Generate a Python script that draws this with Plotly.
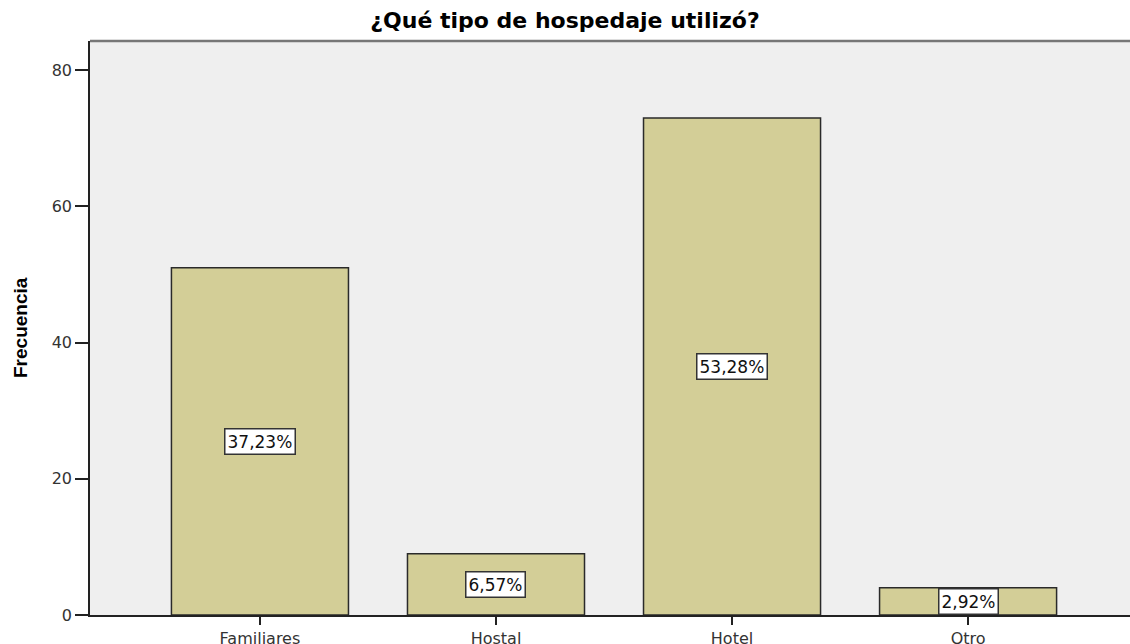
import plotly.graph_objects as go

categories = ["Familiares", "Hostal", "Hotel", "Otro"]
frecuencia = [51, 9, 73, 4]
porcentajes = ["37,23%", "6,57%", "53,28%", "2,92%"]
y_ticks = [0, 20, 40, 60, 80]

fig = go.Figure()
fig.add_trace(go.Bar(
    x=list(range(len(categories))), y=frecuencia,
    width=0.75,
    marker=dict(color="#d3ce97", line=dict(color="#2a2a2a", width=1.5)),
    hoverinfo="skip",
))

for i, (v, p) in enumerate(zip(frecuencia, porcentajes)):
    fig.add_annotation(
        x=i, y=v / 2, text=p, showarrow=False,
        font=dict(family="DejaVu Sans", size=17, color="#111111"),
        bgcolor="white", bordercolor="#333333", borderwidth=1.5, borderpad=2,
    )

fig.add_annotation(
    xref="paper", yref="paper", x=-70 / 1040, y=0.5, xanchor="center", yanchor="middle",
    text="<b>Frecuencia</b>", textangle=-90, showarrow=False,
    font=dict(family="Liberation Sans Narrow, Liberation Sans, Arial", size=19, color="#000"),
)

fig.update_layout(
    width=1130, height=644,
    margin=dict(l=90, r=0, t=41, b=29, autoexpand=False),
    paper_bgcolor="white", plot_bgcolor="#efefef",
    showlegend=False,
    title=dict(text="<b>¿Qué tipo de hospedaje utilizó?</b>", x=0.5, xanchor="center",
               y=0.968, yanchor="middle",
               font=dict(family="DejaVu Sans", size=22, color="#000")),
    font=dict(family="DejaVu Sans", size=16, color="#333"),
)
fig.update_xaxes(
    range=[-0.72, 3.686], tickmode="array",
    tickvals=list(range(len(categories))), ticktext=categories,
    ticks="outside", ticklen=8, tickcolor="#222", tickwidth=1.5,
    showline=True, linecolor="#222", linewidth=1.5, mirror=False,
    showgrid=False, zeroline=False, tickfont=dict(size=16), automargin=False,
)
fig.update_yaxes(
    range=[0, 84.3], tickmode="array", tickvals=y_ticks,
    ticks="outside", ticklen=13, tickcolor="#222", tickwidth=1.5,
    showline=True, linecolor="#222", linewidth=1.5,
    showgrid=False, zeroline=False, tickfont=dict(size=16), automargin=False,
)
fig.add_shape(type="line", xref="paper", yref="paper", x0=0, x1=1, y0=1, y1=1,
              line=dict(color="#777", width=2.5))

fig.write_html("out.html", config={"displayModeBar": False},
               post_script="document.body.style.margin='0';document.body.style.overflow='hidden';")
